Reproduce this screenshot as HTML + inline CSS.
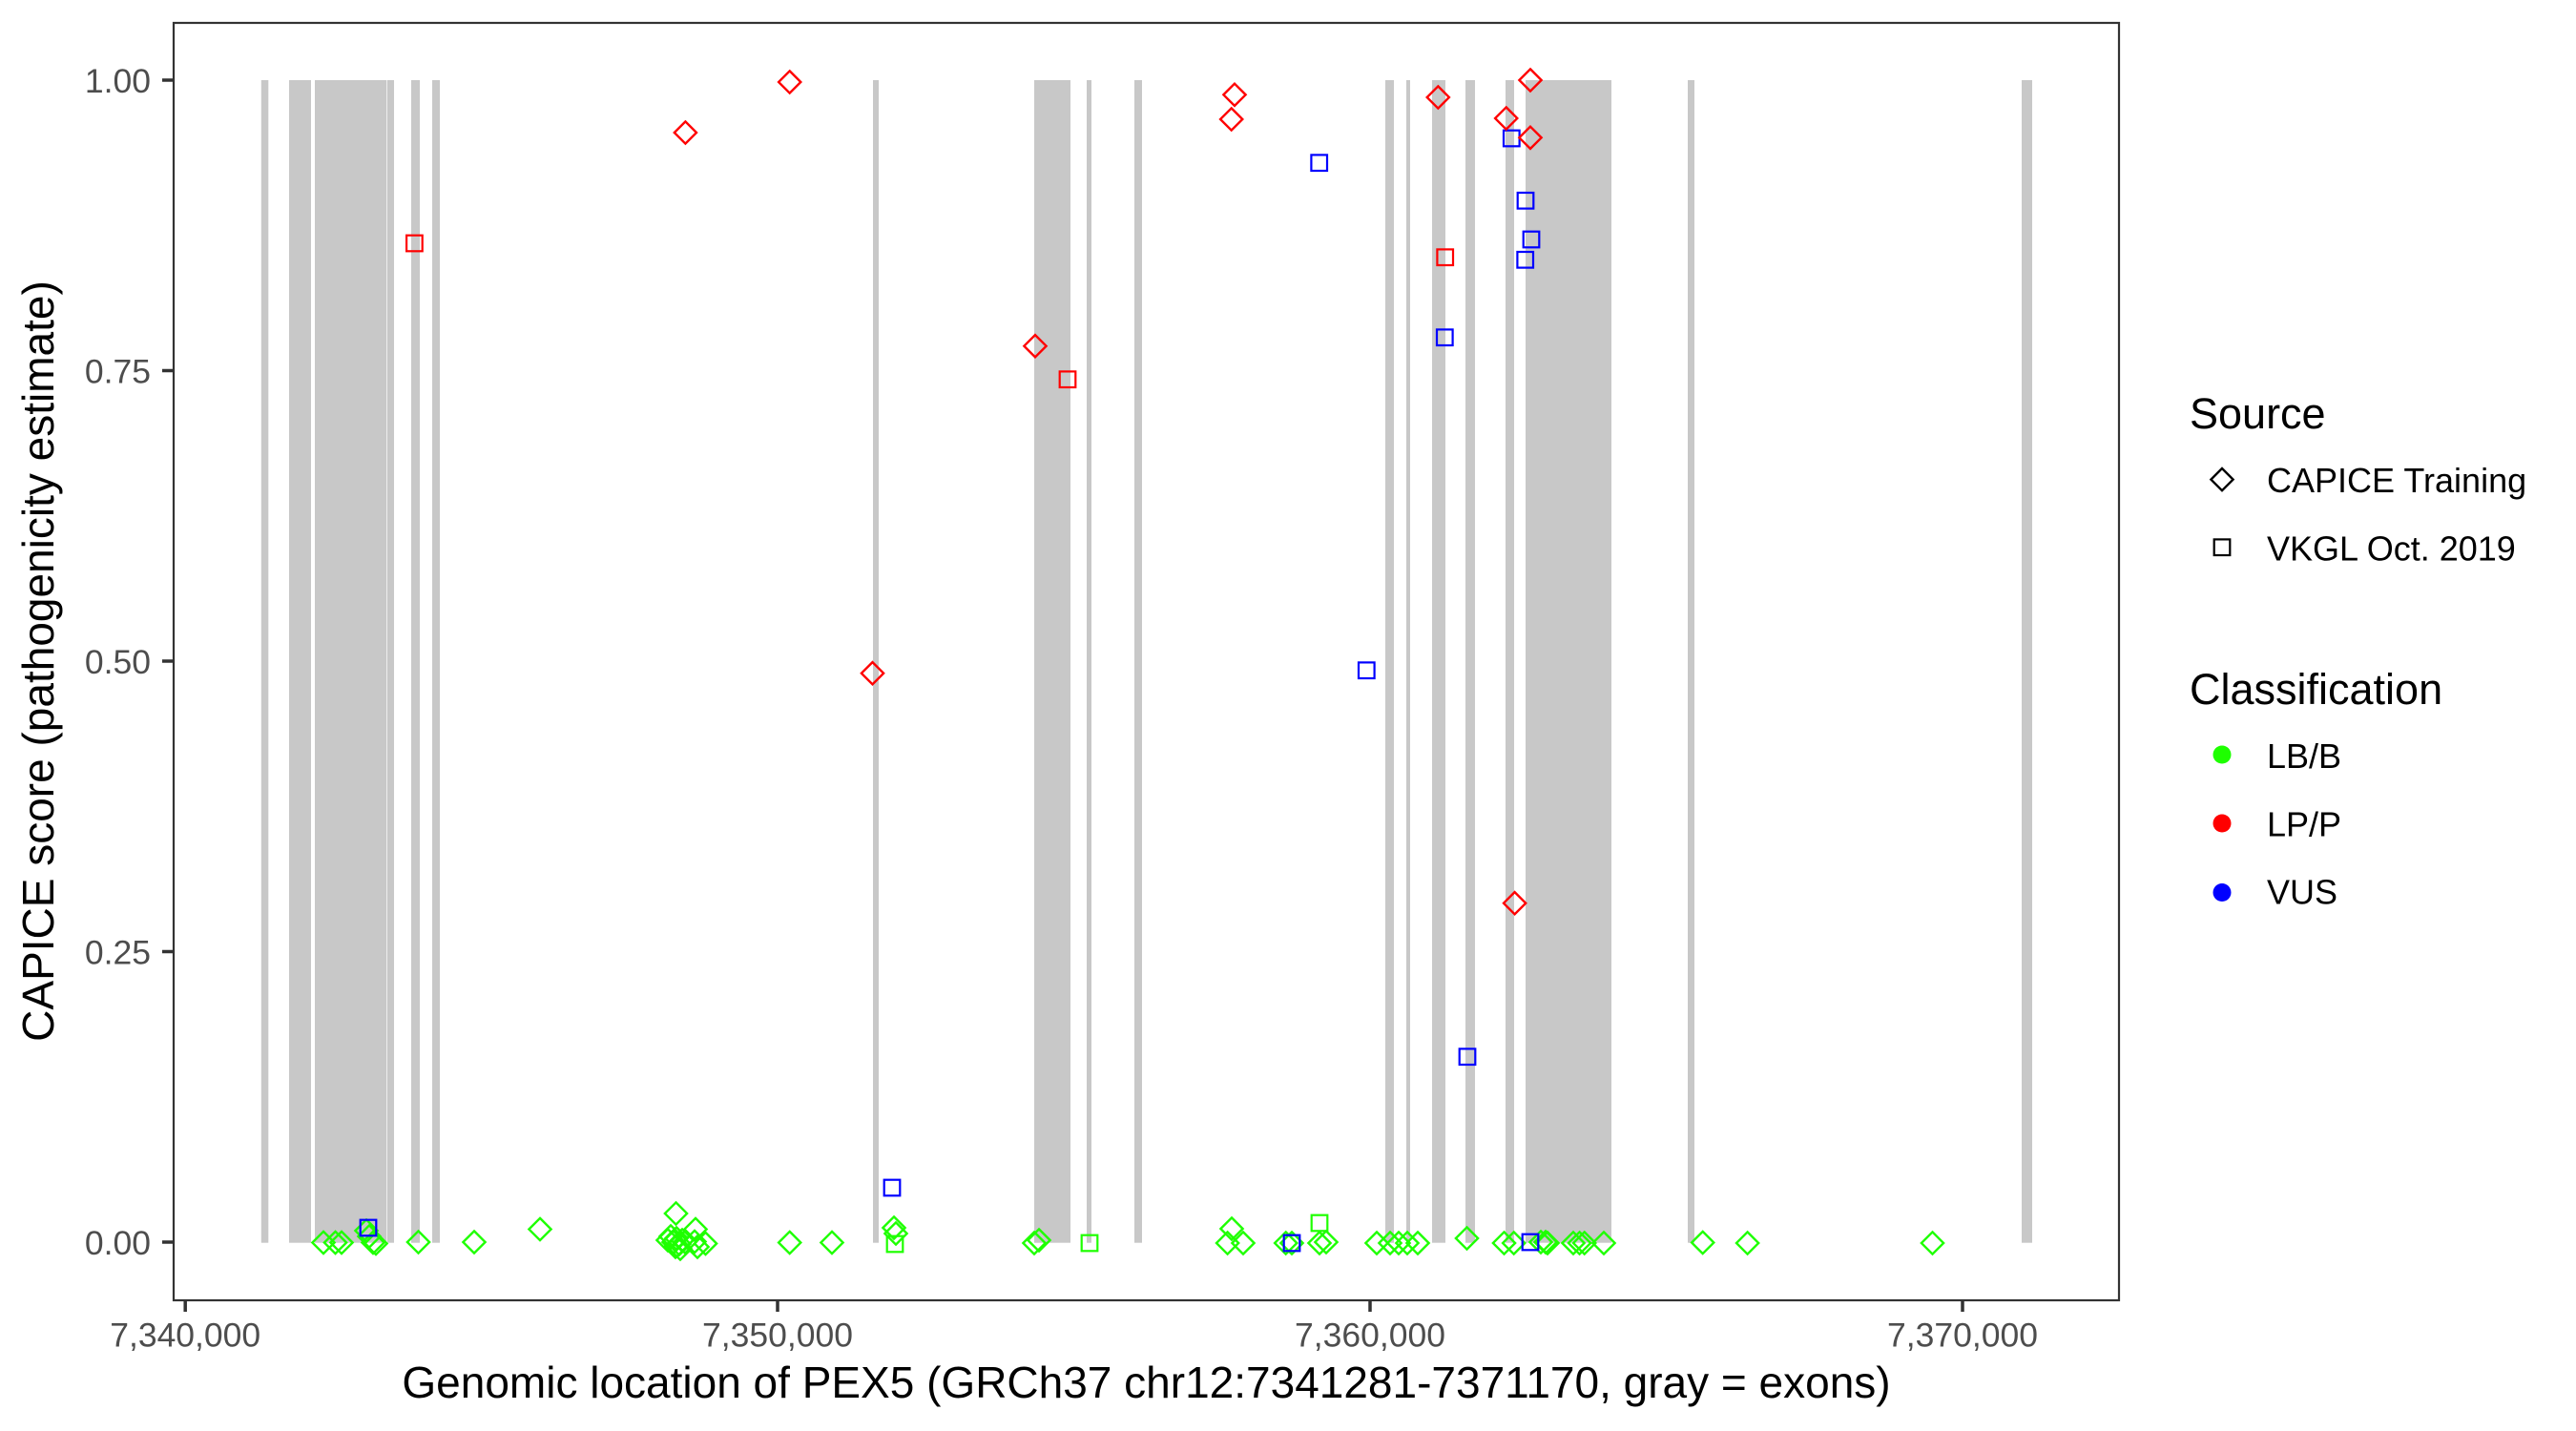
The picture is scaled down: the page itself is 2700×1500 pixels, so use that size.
<!DOCTYPE html>
<html>
<head>
<meta charset="utf-8">
<style>
  html, body { margin: 0; padding: 0; background: #ffffff; }
  body { width: 2700px; height: 1500px; overflow: hidden; }
  svg { display: block; }
  text { font-family: "Liberation Sans", Arial, sans-serif; }
</style>
</head>
<body>
<svg width="2700" height="1500" viewBox="0 0 2700 1500" xmlns="http://www.w3.org/2000/svg">
  <defs>
    <path id="dm" d="M0,-11.6L11.6,0L0,11.6L-11.6,0Z"/>
    <rect id="sq" x="-8.3" y="-8.3" width="16.6" height="16.6"/>
  </defs>
  <rect x="0" y="0" width="2700" height="1500" fill="#ffffff"/>

  <g fill="#c8c8c8">
    <rect x="273.8" y="84" width="7.5" height="1218.7"/>
    <rect x="303" y="84" width="23" height="1218.7"/>
    <rect x="330" y="84" width="75.3" height="1218.7"/>
    <rect x="406" y="84" width="7" height="1218.7"/>
    <rect x="431" y="84" width="9" height="1218.7"/>
    <rect x="453" y="84" width="8" height="1218.7"/>
    <rect x="915" y="84" width="6" height="1218.7"/>
    <rect x="1084" y="84" width="38" height="1218.7"/>
    <rect x="1139" y="84" width="5" height="1218.7"/>
    <rect x="1189" y="84" width="8" height="1218.7"/>
    <rect x="1452" y="84" width="9" height="1218.7"/>
    <rect x="1474" y="84" width="4" height="1218.7"/>
    <rect x="1501" y="84" width="14" height="1218.7"/>
    <rect x="1536" y="84" width="10" height="1218.7"/>
    <rect x="1578" y="84" width="9" height="1218.7"/>
    <rect x="1599" y="84" width="90" height="1218.7"/>
    <rect x="1769" y="84" width="7" height="1218.7"/>
    <rect x="2119" y="84" width="11" height="1218.7"/>
  </g>

  <g fill="none" stroke="#1eff00" stroke-width="2.4">
    <use href="#dm" x="339" y="1302.5"/>
    <use href="#dm" x="351.5" y="1302.5"/>
    <use href="#dm" x="358" y="1302.5"/>
    <use href="#dm" x="384" y="1290"/>
    <use href="#dm" x="387" y="1296"/>
    <use href="#dm" x="391" y="1302.5"/>
    <use href="#dm" x="394" y="1303.5"/>
    <use href="#dm" x="438.5" y="1302"/>
    <use href="#dm" x="497" y="1302"/>
    <use href="#dm" x="566" y="1288.5"/>
    <use href="#dm" x="708.5" y="1272"/>
    <use href="#dm" x="700" y="1300"/>
    <use href="#dm" x="703" y="1296"/>
    <use href="#dm" x="706" y="1302"/>
    <use href="#dm" x="709" y="1298"/>
    <use href="#dm" x="712" y="1304"/>
    <use href="#dm" x="715" y="1300"/>
    <use href="#dm" x="718" y="1302"/>
    <use href="#dm" x="708" y="1307"/>
    <use href="#dm" x="713" y="1309"/>
    <use href="#dm" x="729" y="1288.5"/>
    <use href="#dm" x="728" y="1301.5"/>
    <use href="#dm" x="739.5" y="1303.5"/>
    <use href="#dm" x="731" y="1307"/>
    <use href="#dm" x="827.7" y="1302.5"/>
    <use href="#dm" x="872" y="1302.5"/>
    <use href="#dm" x="937" y="1287"/>
    <use href="#dm" x="939" y="1293"/>
    <use href="#dm" x="1084" y="1303"/>
    <use href="#dm" x="1089" y="1300"/>
    <use href="#dm" x="1291" y="1288"/>
    <use href="#dm" x="1286.6" y="1303"/>
    <use href="#dm" x="1303" y="1303"/>
    <use href="#dm" x="1347.7" y="1303"/>
    <use href="#dm" x="1354" y="1303"/>
    <use href="#dm" x="1383" y="1303"/>
    <use href="#dm" x="1390" y="1302"/>
    <use href="#dm" x="1443" y="1303"/>
    <use href="#dm" x="1457" y="1303"/>
    <use href="#dm" x="1466" y="1303"/>
    <use href="#dm" x="1475" y="1303"/>
    <use href="#dm" x="1486" y="1303"/>
    <use href="#dm" x="1537.5" y="1298"/>
    <use href="#dm" x="1576.5" y="1303"/>
    <use href="#dm" x="1586.7" y="1303"/>
    <use href="#dm" x="1615" y="1302"/>
    <use href="#dm" x="1620" y="1302"/>
    <use href="#dm" x="1622" y="1303"/>
    <use href="#dm" x="1649" y="1303"/>
    <use href="#dm" x="1655.6" y="1303"/>
    <use href="#dm" x="1660.7" y="1303"/>
    <use href="#dm" x="1681" y="1303"/>
    <use href="#dm" x="1784.7" y="1302.5"/>
    <use href="#dm" x="1831.6" y="1303"/>
    <use href="#dm" x="2025.5" y="1303"/>
  </g>

  <g fill="none" stroke="#1eff00" stroke-width="2.2">
    <use href="#sq" x="938" y="1304"/>
    <use href="#sq" x="1142" y="1303"/>
    <use href="#sq" x="1383" y="1282"/>
  </g>

  <g fill="none" stroke="#0000ff" stroke-width="2.2">
    <use href="#sq" x="386" y="1287"/>
    <use href="#sq" x="935" y="1245"/>
    <use href="#sq" x="1354" y="1303"/>
    <use href="#sq" x="1604" y="1302"/>
    <use href="#sq" x="1382.7" y="170.7"/>
    <use href="#sq" x="1584.3" y="145"/>
    <use href="#sq" x="1599" y="210.3"/>
    <use href="#sq" x="1605" y="251"/>
    <use href="#sq" x="1598.7" y="272.3"/>
    <use href="#sq" x="1514.3" y="353.7"/>
    <use href="#sq" x="1432.3" y="702.7"/>
    <use href="#sq" x="1538" y="1107.7"/>
  </g>

  <g fill="none" stroke="#ff0000" stroke-width="2.4">
    <use href="#dm" x="718.4" y="139"/>
    <use href="#dm" x="827.7" y="86"/>
    <use href="#dm" x="1085" y="362.7"/>
    <use href="#dm" x="914.5" y="705.7"/>
    <use href="#dm" x="1294" y="99.3"/>
    <use href="#dm" x="1290.7" y="125"/>
    <use href="#dm" x="1507.3" y="102"/>
    <use href="#dm" x="1604" y="84"/>
    <use href="#dm" x="1578.7" y="124"/>
    <use href="#dm" x="1604" y="144.3"/>
    <use href="#dm" x="1587.6" y="946.7"/>
  </g>

  <g fill="none" stroke="#ff0000" stroke-width="2.2">
    <use href="#sq" x="434.4" y="255"/>
    <use href="#sq" x="1119" y="397.7"/>
    <use href="#sq" x="1514.7" y="269.7"/>
  </g>

  <rect x="182" y="24" width="2039" height="1339" fill="none" stroke="#333333" stroke-width="2.2"/>

  <g stroke="#333333" stroke-width="3.5">
    <line x1="170" y1="84" x2="181" y2="84"/>
    <line x1="170" y1="388.5" x2="181" y2="388.5"/>
    <line x1="170" y1="693" x2="181" y2="693"/>
    <line x1="170" y1="997.5" x2="181" y2="997.5"/>
    <line x1="170" y1="1302" x2="181" y2="1302"/>
    <line x1="194.2" y1="1363" x2="194.2" y2="1375"/>
    <line x1="815" y1="1363" x2="815" y2="1375"/>
    <line x1="1436" y1="1363" x2="1436" y2="1375"/>
    <line x1="2057" y1="1363" x2="2057" y2="1375"/>
  </g>

  <g font-size="35.5" fill="#4d4d4d" text-anchor="end">
    <text x="158" y="96.8">1.00</text>
    <text x="158" y="401.3">0.75</text>
    <text x="158" y="705.8">0.50</text>
    <text x="158" y="1010.3">0.25</text>
    <text x="158" y="1314.8">0.00</text>
  </g>

  <g font-size="35.5" fill="#4d4d4d" text-anchor="middle">
    <text x="194.2" y="1411.7">7,340,000</text>
    <text x="815" y="1411.7">7,350,000</text>
    <text x="1436" y="1411.7">7,360,000</text>
    <text x="2057" y="1411.7">7,370,000</text>
  </g>

  <text x="1201.5" y="1465" font-size="46" fill="#000000" text-anchor="middle">Genomic location of PEX5 (GRCh37 chr12:7341281-7371170, gray = exons)</text>
  <text transform="translate(56,693) rotate(-90)" font-size="46" fill="#000000" text-anchor="middle">CAPICE score (pathogenicity estimate)</text>

  <text x="2295" y="449" font-size="45" fill="#000000">Source</text>
  <use href="#dm" x="2329" y="502.6" fill="none" stroke="#000000" stroke-width="2.4"/>
  <text x="2376" y="516" font-size="36" fill="#000000">CAPICE Training</text>
  <use href="#sq" x="2329" y="573.7" fill="none" stroke="#000000" stroke-width="2.2"/>
  <text x="2376" y="587.6" font-size="36" fill="#000000">VKGL Oct. 2019</text>

  <text x="2295" y="737.8" font-size="45" fill="#000000">Classification</text>
  <circle cx="2329" cy="791" r="9.5" fill="#1eff00"/>
  <text x="2376" y="805" font-size="36" fill="#000000">LB/B</text>
  <circle cx="2329" cy="863" r="9.5" fill="#ff0000"/>
  <text x="2376" y="876.5" font-size="36" fill="#000000">LP/P</text>
  <circle cx="2329" cy="935.5" r="9.5" fill="#0000ff"/>
  <text x="2376" y="947.5" font-size="36" fill="#000000">VUS</text>
</svg>
</body>
</html>
